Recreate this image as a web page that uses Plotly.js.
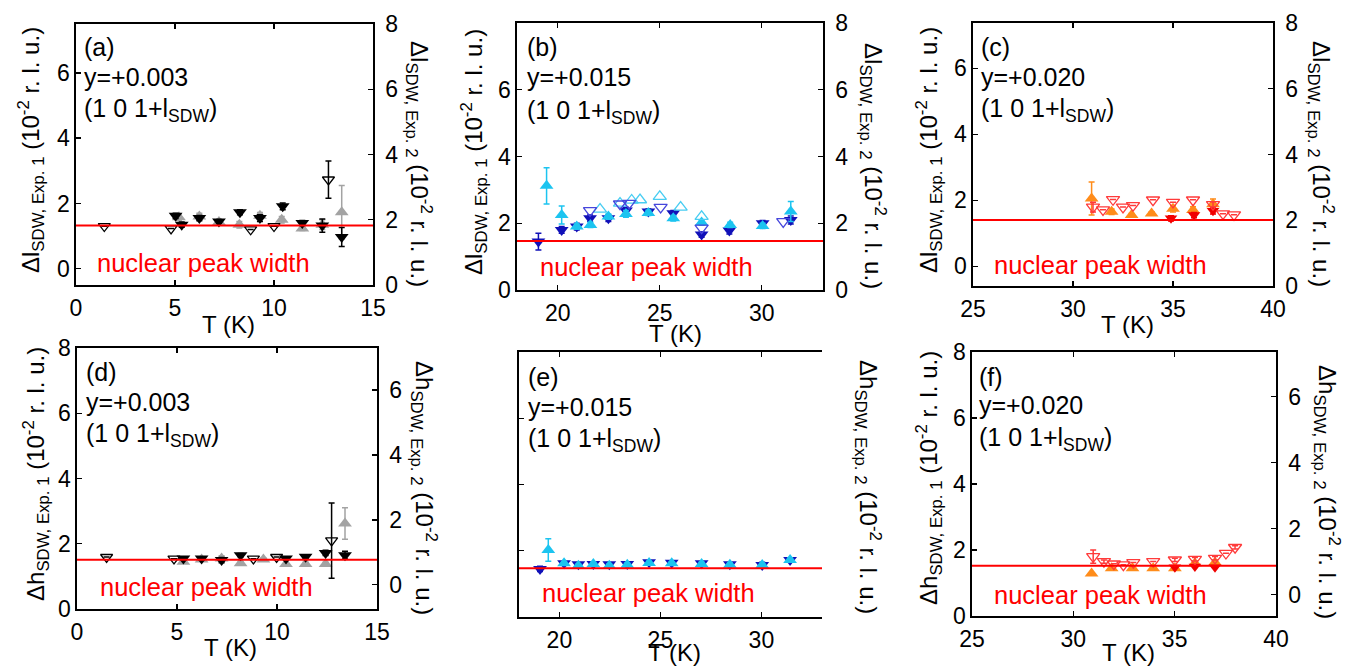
<!DOCTYPE html>
<html><head><meta charset="utf-8">
<script src="https://cdn.plot.ly/plotly-3.0.1.min.js"></script>
<style>html,body{margin:0;padding:0;background:#fff}#chart{width:1362px;height:668px}</style>
</head><body><div id="chart"></div>
<script>
// ---------------- DATA ----------------
// (a) y=+0.003, width along l, Exp.1 (left axis) filled, Exp.2 (right axis) open
const aT_down = [5.03, 5.34, 6.23, 7.22, 8.28, 9.29, 10.44, 11.43, 12.44, 13.42];
const aV_down = [1.62, 1.35, 1.55, 1.45, 1.73, 1.55, 1.91, 1.40, 1.32, 0.97];
const aE_down = [0.08, 0.08, 0.08, 0.06, 0.08, 0.10, 0.10, 0.08, 0.20, 0.29];
const aT_up = [5.20, 6.23, 7.22, 8.25, 9.29, 10.39, 11.43, 12.44, 13.42];
const aV_up = [1.58, 1.60, 1.43, 1.35, 1.62, 1.50, 1.23, 1.35, 1.73];
const aE_up = [0.10, 0.10, 0.05, 0.10, 0.10, 0.10, 0.06, 0.15, 0.82];
const aT_open = [1.43, 4.80, 8.82, 10.00, 12.75];
const aV_open = [1.80, 1.73, 1.70, 1.80, 3.23];
const aE_open = [0, 0, 0, 0, 0.57];

// (b) y=+0.015, width along l
const bT_down = [19.05, 20.19, 20.93, 21.58, 22.48, 23.34, 24.44, 25.66, 27.05, 28.41, 30.04, 31.42];
const bV_down = [1.45, 1.80, 1.90, 2.15, 2.15, 2.38, 2.35, 2.30, 1.66, 1.78, 2.00, 2.10];
const bE_down = [0.25, 0.10, 0.10, 0.10, 0.10, 0.10, 0.08, 0.08, 0.08, 0.10, 0.08, 0.12];
const bT_up = [19.45, 20.19, 20.93, 21.60, 22.48, 23.34, 24.44, 25.66, 27.05, 28.45, 30.04, 31.42];
const bV_up = [3.12, 2.25, 1.90, 1.95, 2.20, 2.28, 2.31, 2.15, 2.02, 1.95, 1.92, 2.35];
const bE_up = [0.54, 0.27, 0.08, 0.08, 0.08, 0.10, 0.08, 0.08, 0.08, 0.08, 0.08, 0.30];
const bT_openDown = [21.58, 23.05, 23.50, 25.04, 27.05, 31.05];
const bV_openDown = [2.38, 2.58, 2.60, 2.48, 1.86, 2.05];
const bT_openUp = [22.07, 23.05, 23.62, 24.03, 25.00, 26.02, 27.05];
const bV_openUp = [2.42, 2.60, 2.69, 2.70, 2.80, 2.48, 2.20];

// (c) y=+0.020, width along l
const cT_up = [30.93, 31.93, 32.93, 33.93, 35.00, 36.00, 37.00];
const cV_up = [2.05, 1.65, 1.55, 1.60, 1.74, 1.70, 1.88];
const cE_up = [0.50, 0.08, 0.05, 0.05, 0.10, 0.10, 0.16];
const cT_down = [34.90, 36.05, 37.00];
const cV_down = [1.45, 1.55, 1.68];
const cE_down = [0.08, 0.08, 0.10];
const cT_open = [31.00, 31.50, 32.00, 32.50, 33.00, 34.00, 35.00, 36.00, 37.00, 37.50, 38.05];
const cV_open = [2.40, 2.32, 2.63, 2.40, 2.45, 2.62, 2.55, 2.62, 2.48, 2.20, 2.17];
const cE_open = [0.15, 0, 0, 0, 0, 0, 0, 0, 0.08, 0, 0];

// (d) y=+0.003, width along h
const dT_down = [5.32, 6.23, 7.23, 8.18, 10.45, 11.43, 12.43, 13.40];
const dV_down = [1.55, 1.55, 1.50, 1.65, 1.55, 1.60, 1.72, 1.65];
const dE_down = [0.05, 0.05, 0.08, 0.05, 0.05, 0.05, 0.08, 0.12];
const dT_up = [5.32, 6.23, 7.23, 8.18, 9.32, 10.45, 11.43, 12.43, 13.40];
const dV_up = [1.45, 1.52, 1.55, 1.40, 1.52, 1.38, 1.38, 1.38, 2.62];
const dE_up = [0.05, 0.05, 0.08, 0.05, 0.05, 0.05, 0.05, 0.05, 0.48];
const dT_open = [1.48, 4.85, 8.82, 9.98, 12.73];
const dV_open = [0.85, 0.80, 0.80, 0.85, 1.36];
const dE_open = [0, 0, 0, 0, 1.16];

// (e) y=+0.015, width along h
const eT_down = [19.04, 20.23, 20.94, 21.68, 22.47, 23.36, 24.44, 25.56, 27.04, 28.44, 30.04, 31.42];
const eV_down = [1.45, 1.62, 1.59, 1.60, 1.59, 1.60, 1.65, 1.64, 1.62, 1.59, 1.57, 1.72];
const eE_down = [0.08, 0.05, 0.05, 0.05, 0.05, 0.05, 0.05, 0.05, 0.05, 0.05, 0.08, 0.05];
const eT_up = [19.45, 20.23, 20.94, 21.68, 22.47, 23.36, 24.44, 25.56, 27.04, 28.44, 30.04, 31.42];
const eV_up = [2.02, 1.62, 1.55, 1.60, 1.55, 1.58, 1.63, 1.62, 1.60, 1.58, 1.57, 1.72];
const eE_up = [0.34, 0.05, 0.05, 0.05, 0.05, 0.05, 0.05, 0.05, 0.05, 0.05, 0.05, 0.06];

// (f) y=+0.020, width along h
const fT_up = [30.90, 31.89, 32.92, 33.94, 35.01, 36.00, 36.99];
const fV_up = [1.29, 1.45, 1.45, 1.45, 1.45, 1.60, 1.62];
const fT_down = [35.01, 36.00, 36.99];
const fV_down = [1.48, 1.50, 1.48];
const fT_open = [30.98, 31.51, 32.00, 32.47, 32.96, 33.94, 35.01, 36.00, 36.99, 37.53, 37.98];
const fV_open = [1.15, 1.00, 0.93, 0.90, 0.97, 1.00, 1.05, 1.07, 1.10, 1.25, 1.43];
const fE_open = [0.20, 0.05, 0, 0, 0, 0, 0.05, 0.05, 0.05, 0, 0.05];

// nuclear peak widths (left-axis units), one per panel a..f
const nuclearWidth = [1.32, 1.47, 1.40, 1.51, 1.47, 1.52];

// texts
const panelLetters = ['(a)', '(b)', '(c)', '(d)', '(e)', '(f)'];
const yLabels = ['y=+0.003', 'y=+0.015', 'y=+0.020', 'y=+0.003', 'y=+0.015', 'y=+0.020'];
const peakText = '(1 0 1+l<sub>SDW</sub>)';
const nucText = 'nuclear peak width';
const xTitle = 'T (K)';
const leftTitles = ['Δl<sub>SDW, Exp. 1</sub> (10<sup>-2</sup> r. l. u.)', 'Δl<sub>SDW, Exp. 1</sub> (10<sup>-2</sup> r. l. u.)', 'Δl<sub>SDW, Exp. 1</sub> (10<sup>-2</sup> r. l. u.)',
  'Δh<sub>SDW, Exp. 1</sub> (10<sup>-2</sup> r. l. u.)', '', 'Δh<sub>SDW, Exp. 1</sub> (10<sup>-2</sup> r. l. u.)'];
const rightTitles = ['Δl<sub>SDW, Exp. 2</sub> (10<sup>-2</sup> r. l. u.)', 'Δl<sub>SDW, Exp. 2</sub> (10<sup>-2</sup> r. l. u.)', 'Δl<sub>SDW, Exp. 2</sub> (10<sup>-2</sup> r. l. u.)',
  'Δh<sub>SDW, Exp. 2</sub> (10<sup>-2</sup> r. l. u.)', 'Δh<sub>SDW, Exp. 2</sub> (10<sup>-2</sup> r. l. u.)', 'Δh<sub>SDW, Exp. 2</sub> (10<sup>-2</sup> r. l. u.)'];

// ---------------- LAYOUT GEOMETRY ----------------
const W = 1362, H = 668;
const fx = p => p / W, fy = p => 1 - p / H;
const FONT = 'Arial, "Liberation Sans", sans-serif';
const TXT = 25, TICK = 23, YT = 24;

const panels = [
  {box:[76,373,24,285], xr:[0,15], xt:[0,5,10,15], yl:[-0.5,7.5], ylt:[0,2,4,6], yr:[0,8], yrt:[0,2,4,6,8],
   txtX:82, txtY:[47,77,110], nuc:[95,263], xT:[228,325], lT:[31,150], rT:[419,164]},
  {box:[517,823,23,290], xr:[18,33], xt:[20,25,30], yl:[0,8], ylt:[0,2,4,6], yr:[0,8], yrt:[0,2,4,6,8],
   txtX:525, txtY:[47,77,112], nuc:[538,267], xT:[675,333], lT:[474,152], rT:[873,166]},
  {box:[973,1273,23,286], xr:[25,40], xt:[25,30,35,40], yl:[-0.6,7.37], ylt:[0,2,4,6], yr:[0,8], yrt:[0,2,4,6,8],
   txtX:979, txtY:[47,77,110], nuc:[992,265], xT:[1127,325], lT:[929,150], rT:[1321,164]},
  {box:[77,377,348,609], xr:[0,15], xt:[0,5,10,15], yl:[0,8], ylt:[0,2,4,6,8], yr:[-0.75,7.3], yrt:[0,2,4,6],
   txtX:84, txtY:[372,402,435], nuc:[98,587], xT:[230,647], lT:[36,474], rT:[424,488]},
  {box:[519,822,352,617], xr:[18,33], xt:[20,25,30], yl:[0,8], ylt:[0,2,4,6], noLeftLabels:true, yr:[0,8], yrt:[0,2,4,6,8],
   txtX:526, txtY:[377,407,440], nuc:[540,593], xT:[674,652], lT:null, rT:[868,487]},
  {box:[972,1276,352,616], xr:[25,40], xt:[25,30,35,40], yl:[0,8], ylt:[0,2,4,6,8], yr:[-0.65,7.35], yrt:[0,2,4,6],
   txtX:977, txtY:[377,405,439], nuc:[992,595], xT:[1128,652], lT:[929,478], rT:[1327,492]},
];

const axName = (p, n) => p + (n === 1 ? '' : n);
const layout = {
  width: W, height: H, margin: {l:0, r:0, t:0, b:0},
  paper_bgcolor: '#fff', plot_bgcolor: 'rgba(0,0,0,0)', showlegend: false,
  font: {family: FONT, color: '#000', size: TXT},
  annotations: [], shapes: []
};
const axCommon = {showgrid:false, zeroline:false, showline:true, linecolor:'#000', linewidth:1.6,
  ticks:'inside', ticklen:5, tickwidth:1.4, tickcolor:'#000', tickfont:{family:FONT, size:TICK, color:'#000'}, fixedrange:true};

panels.forEach((p, i) => {
  const k = i + 1, yl = 2*i + 1, yr = 2*i + 2;
  layout[axName('xaxis', k)] = Object.assign({}, axCommon, {
    domain:[fx(p.box[0]), fx(p.box[1])], range:p.xr, tickmode:'array', tickvals:p.xt,
    anchor: axName('y', yl), mirror:'ticks', ticklabelstandoff: 2});
  layout[axName('yaxis', yl)] = Object.assign({}, axCommon, {
    domain:[fy(p.box[3]), fy(p.box[2])], range:p.yl, tickmode:'array', tickvals:p.ylt,
    anchor: axName('x', k), showticklabels: !p.noLeftLabels});
  layout[axName('yaxis', yr)] = Object.assign({}, axCommon, {
    overlaying: axName('y', yl), side:'right', range:p.yr, tickmode:'array', tickvals:p.yrt,
    anchor: axName('x', k), ticklabelstandoff: 6});
  // red nuclear peak width line
  layout.shapes.push({type:'line', xref: axName('x', k) + ' domain', yref: axName('y', yl),
    x0:0, x1:1, y0:nuclearWidth[i], y1:nuclearWidth[i], line:{color:'#ff0000', width:2}});
  const A = (text, x, y, o) => layout.annotations.push(Object.assign({text, x:fx(x), y:fy(y), xref:'paper', yref:'paper',
    showarrow:false, font:{family:FONT, size:TXT, color:'#000'}}, o || {}));
  A(panelLetters[i], p.txtX, p.txtY[0], {xanchor:'left', yanchor:'middle'});
  A(yLabels[i], p.txtX, p.txtY[1], {xanchor:'left', yanchor:'middle'});
  A(peakText, p.txtX, p.txtY[2], {xanchor:'left', yanchor:'middle'});
  A(nucText, p.nuc[0], p.nuc[1], {xanchor:'left', yanchor:'middle', font:{family:FONT, size:25.5, color:'#ff0000'}});
  A(xTitle, p.xT[0], p.xT[1], {xanchor:'center', yanchor:'middle', font:{family:FONT, size:24, color:'#000'}});
  if (p.lT) A(leftTitles[i], p.lT[0], p.lT[1], {xanchor:'center', yanchor:'middle', textangle:-90, font:{family:FONT, size:YT, color:'#000'}});
  A(rightTitles[i], p.rT[0], p.rT[1], {xanchor:'center', yanchor:'middle', textangle:90, font:{family:FONT, size:YT, color:'#000'}});
});

// ---------------- TRACES ----------------
function tr(panel, right, x, y, symbol, color, size, err) {
  const k = panel, ya = right ? 2*panel : 2*panel - 1;
  const open = symbol.indexOf('open') >= 0;
  return {type:'scatter', mode:'markers', x, y, xaxis: axName('x', k), yaxis: axName('y', ya),
    marker:{symbol, size, color, line:{color, width: open ? 1.3 : 0}},
    error_y: err ? {type:'data', array: err, visible:true, color, thickness:1.5, width:3} : {visible:false},
    hoverinfo:'skip', cliponaxis:false};
}
const BLACK = '#000000', GRAY = '#a3a3a3';
const DBLUE = '#1010b8', CYAN = '#1cc4f0', OBLUE = '#4646dc', OCYAN = '#48cdf2';
const ORANGE = '#ff8c1a', RED = '#f00000', ORED = '#ff3a3a';
const FS = 12, OS = 10.5;

const traces = [
  tr(1, true, aT_open, aV_open, 'triangle-down-open', BLACK, OS, aE_open),
  tr(1, false, aT_up, aV_up, 'triangle-up', GRAY, FS, aE_up),
  tr(1, false, aT_down, aV_down, 'triangle-down', BLACK, FS, aE_down),

  tr(2, true, bT_openUp, bV_openUp, 'triangle-up-open', OCYAN, OS + 1, null),
  tr(2, true, bT_openDown, bV_openDown, 'triangle-down-open', OBLUE, OS + 1, null),
  tr(2, false, bT_down, bV_down, 'triangle-down', DBLUE, FS, bE_down),
  tr(2, false, bT_up, bV_up, 'triangle-up', CYAN, FS, bE_up),

  tr(3, true, cT_open, cV_open, 'triangle-down-open', ORED, OS + 1, cE_open),
  tr(3, false, cT_up, cV_up, 'triangle-up', ORANGE, FS, cE_up),
  tr(3, false, cT_down, cV_down, 'triangle-down', RED, FS - 1, cE_down),

  tr(4, true, dT_open, dV_open, 'triangle-down-open', BLACK, OS, dE_open),
  tr(4, false, dT_up, dV_up, 'triangle-up', GRAY, FS, dE_up),
  tr(4, false, dT_down, dV_down, 'triangle-down', BLACK, FS, dE_down),

  tr(5, false, eT_down, eV_down, 'triangle-down', DBLUE, FS, eE_down),
  tr(5, false, eT_up, eV_up, 'triangle-up', CYAN, FS, eE_up),

  tr(6, true, fT_open, fV_open, 'triangle-down-open', ORED, OS + 1, fE_open),
  tr(6, false, fT_up, fV_up, 'triangle-up', ORANGE, FS, null),
  tr(6, false, fT_down, fV_down, 'triangle-down', RED, FS - 1, null),
];

Plotly.newPlot('chart', traces, layout, {staticPlot:true, displayModeBar:false});
</script></body></html>
